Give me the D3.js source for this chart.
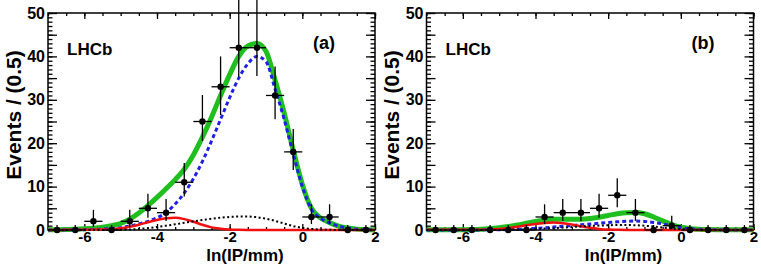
<!DOCTYPE html>
<html>
<head>
<meta charset="utf-8">
<script src="https://cdn.jsdelivr.net/npm/d3@7"></script>
<style>
  body { margin: 0; background: #fff; }
  svg { display: block; }
  text { font-family: "Liberation Sans", Arial, Helvetica, sans-serif; font-weight: bold; }
</style>
</head>
<body>
<svg id="chart"></svg>
<script>
// bin centres of the data histograms (bin width 0.5)
const binCenters = [-6.75, -6.25, -5.75, -5.25, -4.75, -4.25, -3.75, -3.25, -2.75,
  -2.25, -1.75, -1.25, -0.75, -0.25, 0.25, 0.75, 1.25, 1.75];

const countsA = [0, 0, 2, 0, 2, 5, 4, 11, 25, 33, 42, 42, 31, 18, 3, 3, 0, 0];
const errLoA = [0, 0, 1.29, 0, 1.29, 2.16, 1.91, 3.28, 4.5, 6.5, 6.7, 6.5, 5.5, 4.2, 1.63, 1.63, 0, 0];
const errHiA = [1.15, 1.15, 2.64, 1.15, 2.64, 3.38, 3.16, 4.42, 6.1, 7.0, 11.5, 11.5, 6.7, 5.3, 2.92, 2.92, 1.15, 1.15];

const countsB = [0, 0, 0, 0, 0, 0, 3, 4, 4, 5, 8, 4, 0, 1, 0, 0, 0, 0];
const errLoB = [0, 0, 0, 0, 0, 0, 1.63, 1.91, 1.91, 2.16, 2.77, 1.91, 0, 0.83, 0, 0, 0, 0];
const errHiB = [1.15, 1.15, 1.15, 1.15, 1.15, 1.15, 2.92, 3.16, 3.16, 3.38, 3.94, 3.16, 1.15, 2.30, 1.15, 1.15, 1.15, 1.15];

// fit curves, every 0.25
const curveX = [-7, -6.75, -6.5, -6.25, -6, -5.75, -5.5, -5.25, -5, -4.75, -4.5, -4.25,
  -4, -3.75, -3.5, -3.25, -3, -2.75, -2.5, -2.25, -2, -1.75, -1.5, -1.25, -1, -0.75,
  -0.5, -0.25, 0, 0.25, 0.5, 0.75, 1, 1.25, 1.5, 1.75, 2];

const totalA = [0.05, 0.08, 0.12, 0.18, 0.28, 0.42, 0.65, 1.0, 1.5, 2.5, 3.9, 5.6,
  7.5, 9.5, 11.6, 14.0, 17.3, 21.4, 26.0, 31.0, 35.8, 40.0, 42.4, 43.0, 41.2, 34.5,
  27.0, 18.4, 10.5, 5.0, 2.8, 1.7, 0.9, 0.45, 0.2, 0.08, 0.03];
const signalA = [0.01, 0.02, 0.03, 0.05, 0.08, 0.12, 0.2, 0.35, 0.55, 0.9, 1.4, 2.0,
  2.8, 4.0, 6.0, 8.5, 11.8, 15.8, 20.5, 25.5, 30.5, 35.0, 38.3, 40.0, 38.8, 32.5,
  25.5, 17.5, 10.0, 4.8, 2.7, 1.65, 0.9, 0.45, 0.2, 0.08, 0.03];
const promptA = [0.02, 0.02, 0.03, 0.04, 0.05, 0.08, 0.12, 0.2, 0.4, 0.75, 1.2, 1.8,
  2.3, 2.7, 2.8, 2.5, 1.9, 1.2, 0.6, 0.3, 0.12, 0.05, 0.02, 0.01, 0.01, 0.01,
  0.01, 0.01, 0.01, 0.01, 0.01, 0.01, 0.01, 0.01, 0.01, 0.01, 0.01];
const combA = [0, 0, 0, 0, 0, 0.01, 0.02, 0.04, 0.07, 0.12, 0.25, 0.45,
  0.7, 1.0, 1.3, 1.65, 2.0, 2.3, 2.6, 2.85, 3.0, 3.1, 3.1, 2.95, 2.6, 2.1,
  1.5, 0.9, 0.5, 0.25, 0.1, 0.04, 0.01, 0.01, 0.01, 0.01, 0.01];

const totalB = [0.05, 0.05, 0.06, 0.07, 0.08, 0.12, 0.2, 0.35, 0.55, 0.8, 1.15, 1.55,
  1.95, 2.25, 2.45, 2.5, 2.5, 2.5, 2.65, 2.95, 3.35, 3.75, 4.0, 4.05, 3.75, 3.0,
  2.1, 1.25, 0.65, 0.35, 0.18, 0.1, 0.06, 0.05, 0.05, 0.05, 0.05];
const signalB = [0.01, 0.01, 0.01, 0.01, 0.02, 0.02, 0.03, 0.04, 0.06, 0.1, 0.16, 0.25,
  0.38, 0.52, 0.68, 0.85, 1.02, 1.2, 1.38, 1.55, 1.72, 1.88, 2.0, 2.05, 1.98, 1.75,
  1.4, 0.95, 0.55, 0.3, 0.15, 0.08, 0.04, 0.02, 0.01, 0.01, 0.01];
const promptB = [0.03, 0.03, 0.03, 0.03, 0.04, 0.05, 0.07, 0.12, 0.25, 0.45, 0.75, 1.1,
  1.4, 1.6, 1.7, 1.55, 1.25, 0.85, 0.5, 0.25, 0.1, 0.05, 0.02, 0.02, 0.02, 0.02,
  0.02, 0.02, 0.02, 0.02, 0.02, 0.02, 0.02, 0.02, 0.02, 0.02, 0.02];
const combB = [0, 0, 0, 0, 0, 0, 0, 0.01, 0.02, 0.04, 0.08, 0.14,
  0.22, 0.32, 0.42, 0.55, 0.68, 0.8, 0.92, 1.02, 1.1, 1.15, 1.15, 1.1, 0.98, 0.8,
  0.58, 0.35, 0.2, 0.1, 0.04, 0.01, 0.01, 0.01, 0.01, 0.01, 0.01];

const xMajor = [-6, -4, -2, 0, 2];
const xMinor = d3.range(-7, 2.01, 0.5);
const yMajor = [0, 5, 10, 15, 20, 25, 30, 35, 40, 45, 50];
const yMinor = d3.range(0, 50.1, 1);

const svgWidth = 761, svgHeight = 267;
const plotW = 327, plotTop = 13, plotBottom = 230;

let svg = d3.select("#chart")
  .attr("width", svgWidth)
  .attr("height", svgHeight);

const styleAxis = (g, size) => {
  g.select(".domain").remove();
  g.attr("font-size", size).attr("font-family", null);
  g.selectAll("line").attr("stroke", "#000").attr("stroke-width", 1.3);
  g.selectAll("text").attr("fill", "#000");
};

const drawPanel = (opts) => {
  let left = opts.left;
  let x = d3.scaleLinear().domain([-7, 2]).range([left, left + plotW]);
  let y = d3.scaleLinear().domain([0, 50]).range([plotBottom, plotTop]);
  let g = svg.append("g");

  // minor + major ticks on all four sides, pointing inwards
  g.append("g")
    .attr("transform", "translate(0," + plotBottom + ")")
    .call(d3.axisBottom(x).tickValues(xMinor).tickSize(-3).tickSizeOuter(0).tickFormat(""))
    .call(styleAxis, 15);
  g.append("g")
    .attr("transform", "translate(0," + plotBottom + ")")
    .call(d3.axisBottom(x).tickValues(xMajor).tickSize(-6).tickSizeOuter(0)
      .tickPadding(1).tickFormat(d => String(d)))
    .call(styleAxis, 15);
  g.append("g")
    .attr("transform", "translate(0," + plotTop + ")")
    .call(d3.axisTop(x).tickValues(xMinor).tickSize(-3).tickSizeOuter(0).tickFormat(""))
    .call(styleAxis, 15);
  g.append("g")
    .attr("transform", "translate(0," + plotTop + ")")
    .call(d3.axisTop(x).tickValues(xMajor).tickSize(-6).tickSizeOuter(0).tickFormat(""))
    .call(styleAxis, 15);

  g.append("g")
    .attr("transform", "translate(" + left + ",0)")
    .call(d3.axisLeft(y).tickValues(yMinor).tickSize(-4.5).tickSizeOuter(0).tickFormat(""))
    .call(styleAxis, 16);
  g.append("g")
    .attr("transform", "translate(" + left + ",0)")
    .call(d3.axisLeft(y).tickValues(yMajor).tickSize(-9).tickSizeOuter(0)
      .tickPadding(3).tickFormat(d => d % 10 === 0 ? String(d) : ""))
    .call(styleAxis, 16);
  g.append("g")
    .attr("transform", "translate(" + (left + plotW) + ",0)")
    .call(d3.axisRight(y).tickValues(yMinor).tickSize(-4.5).tickSizeOuter(0).tickFormat(""))
    .call(styleAxis, 16);
  g.append("g")
    .attr("transform", "translate(" + (left + plotW) + ",0)")
    .call(d3.axisRight(y).tickValues(yMajor).tickSize(-9).tickSizeOuter(0).tickFormat(""))
    .call(styleAxis, 16);

  g.append("rect")
    .attr("x", left)
    .attr("y", plotTop)
    .attr("width", plotW)
    .attr("height", plotBottom - plotTop)
    .attr("fill", "none")
    .attr("stroke", "#000")
    .attr("stroke-width", 1.5);

  let line = d3.line()
    .x((d, i) => x(curveX[i]))
    .y(d => y(d))
    .curve(d3.curveMonotoneX);

  const curves = [
    { vals: opts.total, color: "#1fbf1f", width: 5, dash: null },
    { vals: opts.signal, color: "#1f1fe6", width: 3, dash: "4,3" },
    { vals: opts.prompt, color: "#f01010", width: 2.5, dash: null },
    { vals: opts.comb, color: "#000", width: 2, dash: "2,2.5" }
  ];
  for (let c of curves) {
    g.append("path")
      .datum(c.vals)
      .attr("fill", "none")
      .attr("stroke", c.color)
      .attr("stroke-width", c.width)
      .attr("stroke-dasharray", c.dash)
      .attr("stroke-linejoin", "round")
      .attr("d", line);
  }

  // data points with error bars
  let pts = g.selectAll(".pt")
    .data(opts.counts)
    .enter().append("g");
  pts.append("line")
    .attr("x1", (d, i) => x(binCenters[i] - 0.25))
    .attr("x2", (d, i) => x(binCenters[i] + 0.25))
    .attr("y1", d => y(d))
    .attr("y2", d => y(d))
    .attr("stroke", "#000")
    .attr("stroke-width", 1.3);
  pts.append("line")
    .attr("x1", (d, i) => x(binCenters[i]))
    .attr("x2", (d, i) => x(binCenters[i]))
    .attr("y1", (d, i) => y(d - opts.errLo[i]))
    .attr("y2", (d, i) => y(d + opts.errHi[i]))
    .attr("stroke", "#000")
    .attr("stroke-width", 1.3);
  pts.append("circle")
    .attr("cx", (d, i) => x(binCenters[i]))
    .attr("cy", d => y(d))
    .attr("r", 3.2)
    .attr("fill", "#000");

  // labels
  g.append("text")
    .attr("x", left + 19)
    .attr("y", 55)
    .attr("font-size", 17)
    .text("LHCb");
  g.append("text")
    .attr("x", left + 265)
    .attr("y", 49)
    .attr("font-size", 18)
    .text(opts.tag);
  g.append("text")
    .attr("x", left + 197)
    .attr("y", 261)
    .attr("font-size", 17)
    .style("text-anchor", "middle")
    .text("ln(IP/mm)");
  g.append("text")
    .attr("transform", "translate(" + (left - 27.5) + ",115) rotate(-90)")
    .attr("font-size", 21)
    .style("text-anchor", "middle")
    .text("Events / (0.5)");
};

drawPanel({ left: 48, counts: countsA, errLo: errLoA, errHi: errHiA,
  total: totalA, signal: signalA, prompt: promptA, comb: combA, tag: "(a)" });
drawPanel({ left: 426.5, counts: countsB, errLo: errLoB, errHi: errHiB,
  total: totalB, signal: signalB, prompt: promptB, comb: combB, tag: "(b)" });
</script>
</body>
</html>
